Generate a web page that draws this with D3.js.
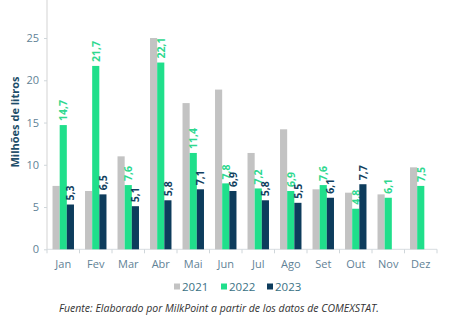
<!DOCTYPE html>
<html><head><meta charset="utf-8">
<script src="https://cdn.jsdelivr.net/npm/d3@7"></script>
<style>body{margin:0;background:#fff}svg{display:block}</style>
</head><body>
<svg id="c" width="450" height="335"></svg>
<script>
const months = ["Jan","Fev","Mar","Abr","Mai","Jun","Jul","Ago","Set","Out","Nov","Dez"];
const years = ["2021","2022","2023"];
const v2021 = [7.5,6.9,11.0,25.0,17.3,18.9,11.4,14.2,7.1,6.7,6.5,9.7];
const v2022 = [14.7,21.7,7.6,22.1,11.4,7.8,7.2,6.9,7.6,4.8,6.1,7.5];
const v2023 = [5.3,6.5,5.1,5.8,7.1,6.9,5.8,5.5,6.1,7.7,null,null];
const yTicks = [0,5,10,15,20,25];
const colors = {"2021":"#c3c3c3","2022":"#20df8b","2023":"#0d3c5c"};
const labelColors = {"2022":"#2fd88f","2023":"#123f5e"};

const series = {"2021":v2021,"2022":v2022,"2023":v2023};
const svg = d3.select("#c");
const m = {l:47, r:13, t:0, b:86};
const W = 450, H = 335;
const x = d3.scaleBand().domain(months).range([m.l, W-m.r]).paddingInner(0.34).paddingOuter(0.17);
const xb = d3.scaleBand().domain(months).range([m.l, W-m.r]);
const xs = d3.scaleBand().domain(years).range([0, x.bandwidth()]);
const y = d3.scaleLinear().domain([0,29.5]).range([249.3, 0]);

const font = "'Open Sans', sans-serif";
// axes lines
svg.append("line").attr("x1",m.l).attr("x2",m.l).attr("y1",0).attr("y2",y(0)).attr("stroke","#e2e2e2").attr("stroke-width",1.5);
svg.append("line").attr("x1",m.l).attr("x2",W-m.r).attr("y1",y(0)).attr("y2",y(0)).attr("stroke","#d8dde0").attr("stroke-width",1);

const yAxis = d3.axisLeft(y).tickValues(yTicks).tickSize(3).tickPadding(5);
const gy = svg.append("g").attr("transform",`translate(${m.l},0)`).call(yAxis);
gy.select(".domain").remove();
gy.selectAll(".tick line").attr("stroke","#cfd6da");
gy.selectAll("text").attr("fill","#5f8296").style("font-family",font).style("font-size","11px");

// x ticks at boundaries
svg.append("g").selectAll("line").data(months).join("line")
  .attr("x1",d=>xb(d)).attr("x2",d=>xb(d)).attr("y1",y(0)).attr("y2",y(0)+4)
  .attr("stroke","#cfd6da");
svg.append("line").attr("x1",W-m.r).attr("x2",W-m.r).attr("y1",y(0)).attr("y2",y(0)+4).attr("stroke","#cfd6da");
svg.append("g").selectAll("text").data(months).join("text")
  .attr("x",d=>xb(d)+xb.bandwidth()/2).attr("y",y(0)+19)
  .attr("text-anchor","middle").attr("fill","#5f8296")
  .style("font-family",font).style("font-size","11px").text(d=>d);

// bars
years.forEach(yr=>{
  const g = svg.append("g");
  const data = months.map((mo,i)=>({mo, v:series[yr][i]})).filter(d=>d.v!=null);
  g.selectAll("rect").data(data).join("rect")
    .attr("x",d=>x(d.mo)+xs(yr)).attr("width",xs.bandwidth())
    .attr("y",d=>y(d.v)).attr("height",d=>y(0)-y(d.v))
    .attr("fill",colors[yr]);
  if(labelColors[yr]){
    g.selectAll("text").data(data).join("text")
      .attr("transform",d=>`translate(${x(d.mo)+xs(yr)+xs.bandwidth()/2+1},${y(d.v)-4}) rotate(-90)`)
      .attr("dominant-baseline","middle")
      .attr("fill",labelColors[yr]).style("font-family",font).style("font-size","10.5px").style("font-weight","700")
      .text(d=>d3.format(".1f")(d.v).replace(".",","));
  }
});

// y label
svg.append("text").attr("transform",`translate(19,122) rotate(-90)`).attr("text-anchor","middle")
  .attr("fill","#1d4d69").style("font-family",font).style("font-size","11px").style("font-weight","700")
  .text("Milhões de litros");

// legend
const lg = svg.append("g");
const lx = [174,221,267];
years.forEach((yr,i)=>{
  lg.append("rect").attr("x",lx[i]).attr("y",283.5).attr("width",6).attr("height",6).attr("fill",colors[yr]);
  lg.append("text").attr("x",lx[i]+8).attr("y",291).attr("fill","#3a7185")
    .style("font-family",font).style("font-size","11.5px").text(yr);
});

svg.append("text").attr("x",219).attr("y",312).attr("text-anchor","middle")
  .attr("fill","#333").style("font-family",font).style("font-size","10.5px").style("font-style","italic")
  .text("Fuente: Elaborado por MilkPoint a partir de los datos de COMEXSTAT.");
</script>
</body></html>
